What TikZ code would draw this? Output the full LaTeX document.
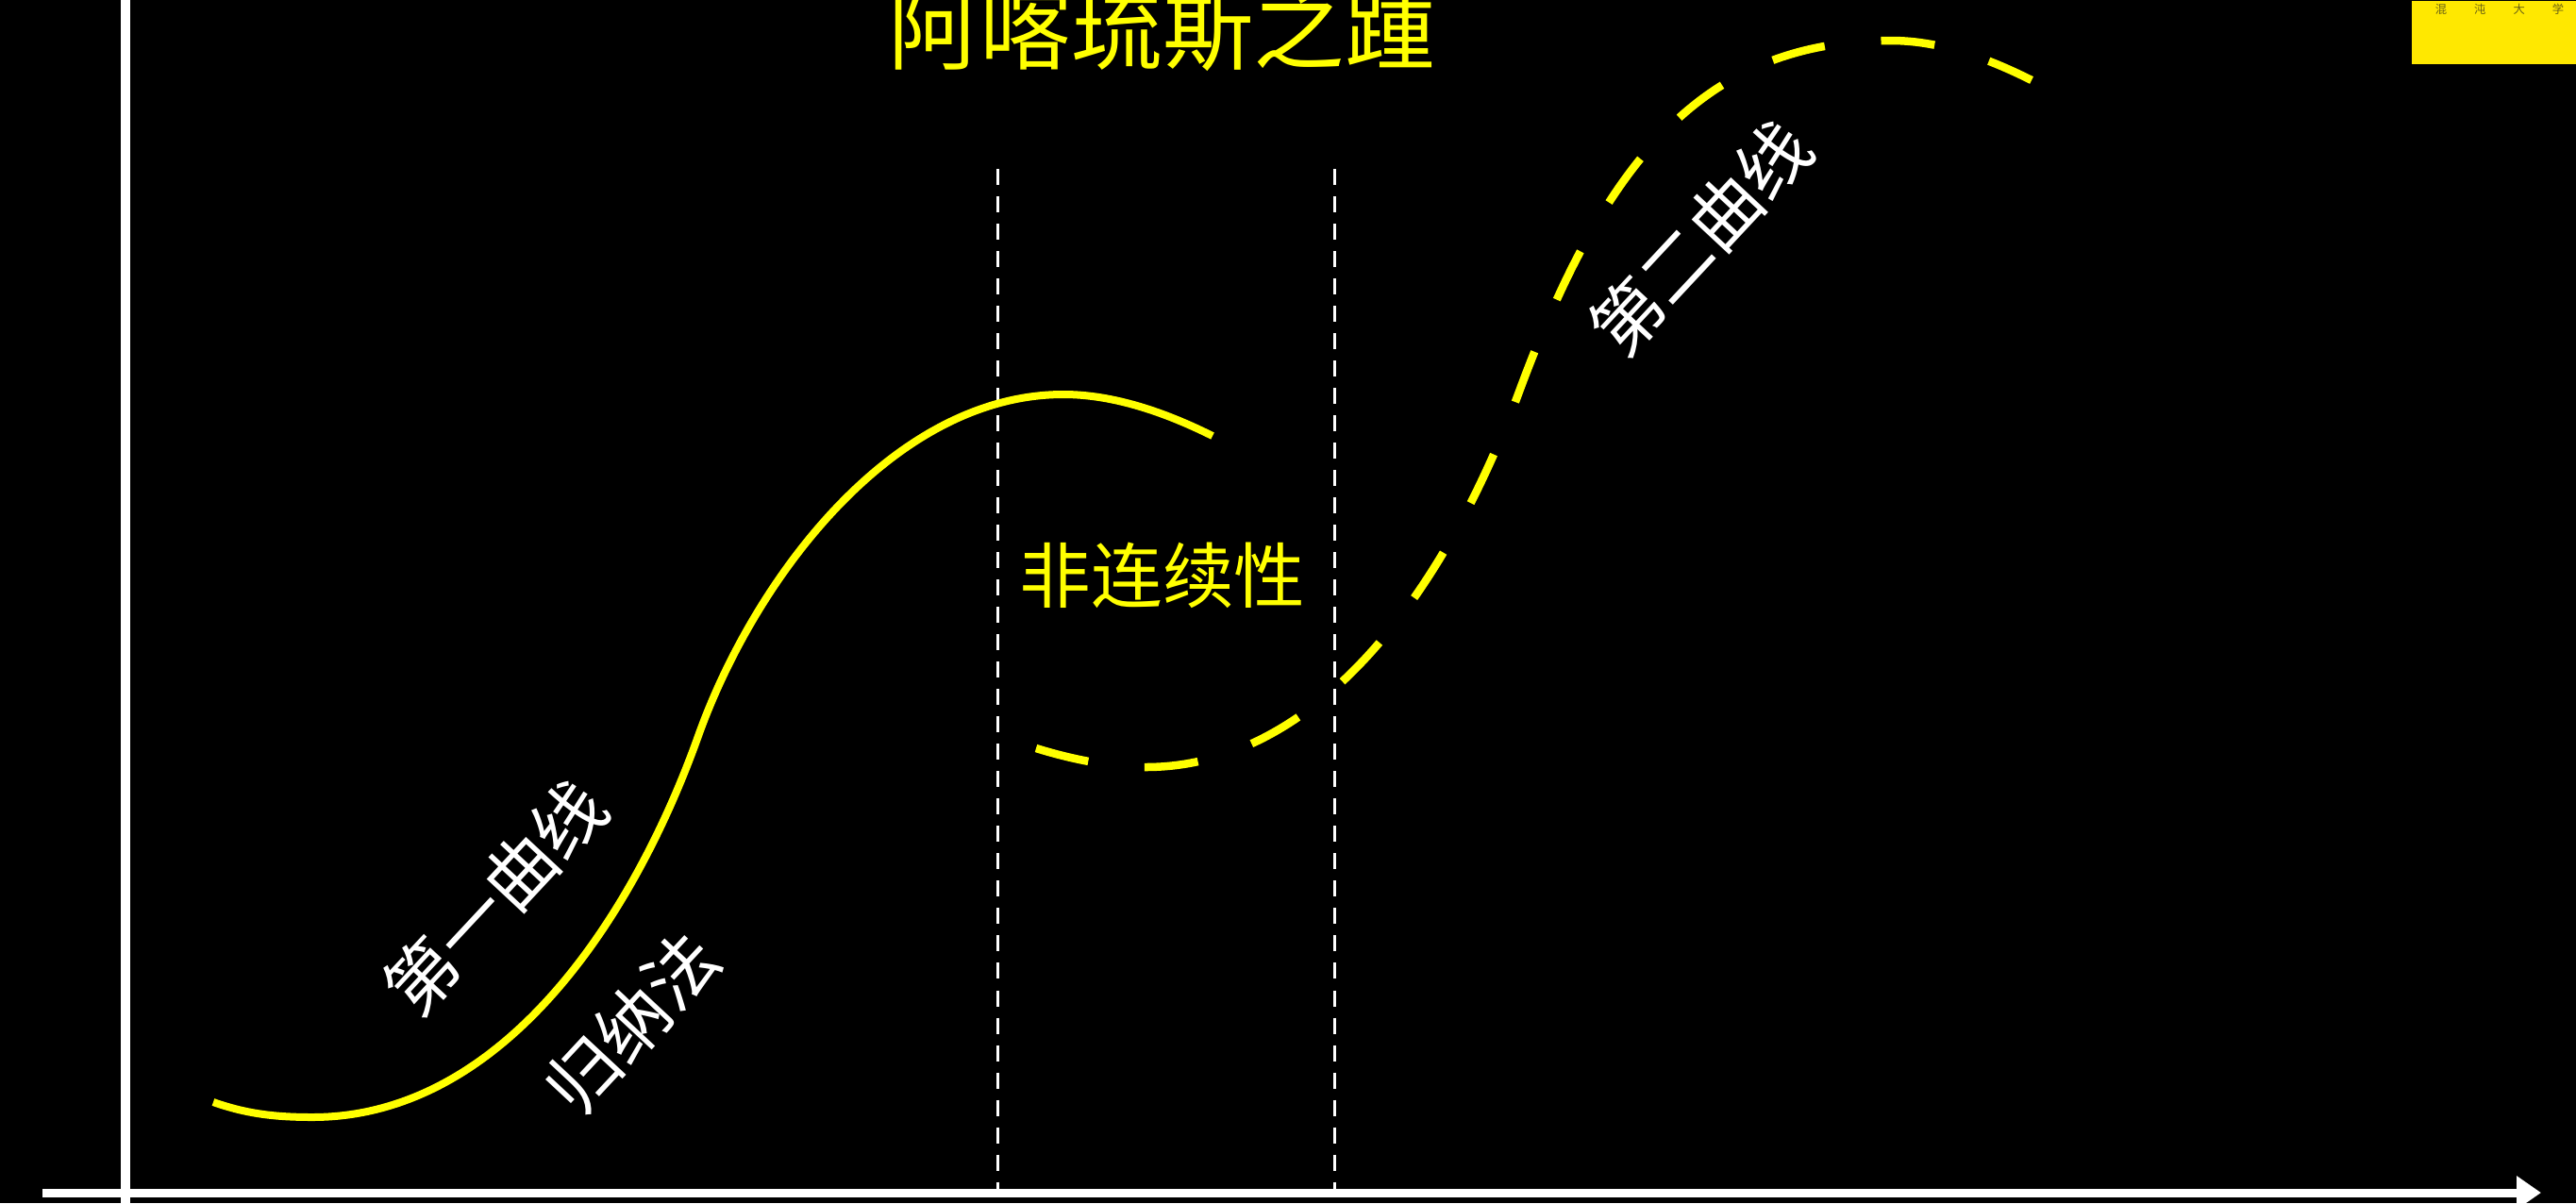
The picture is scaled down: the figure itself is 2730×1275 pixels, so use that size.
\documentclass[tikz,border=0pt]{standalone}
\usepackage{fontspec}
\usepackage{tikz}
\usetikzlibrary{arrows.meta}
\newfontfamily\cjk{Noto Sans CJK SC}
\definecolor{hotyellow}{RGB}{255,255,0}
\definecolor{logoyellow}{RGB}{255,232,0}
\definecolor{logoink}{RGB}{105,96,20}

\begin{document}
\begin{tikzpicture}[x=0.01cm, y=-0.01cm,
  axisline/.style={white, line width=0.09cm},
  guide/.style={white, line width=0.03cm, dash pattern=on 0.17cm off 0.12cm},
  curveone/.style={hotyellow, line width=0.08cm},
  curvetwo/.style={hotyellow, line width=0.085cm, dash pattern=on 0.57cm off 0.6cm},
  curvelabel/.style={white, font=\cjk\fontsize{21.5}{21.5}\selectfont, inner sep=0pt, rotate=47}]
  % Background
  \fill[black] (0,0) rectangle (2730,1275);
  \useasboundingbox (0,0) rectangle (2730,1275);
  % Axes
  \coordinate (ytop) at (133,0);
  \coordinate (ybottom) at (133,1275);
  \coordinate (xstart) at (45,1264);
  \coordinate (xend) at (2693,1264);
  \draw[axisline] (ybottom) -- (ytop);
  \draw[axisline, -{Triangle[length=0.26cm, width=0.34cm]}] (xstart) -- (xend);
  % Gap between the two curves
  \coordinate (leftguidetop) at (1057,179);
  \coordinate (leftguidebottom) at (1057,1264);
  \coordinate (rightguidetop) at (1414,179);
  \coordinate (rightguidebottom) at (1414,1264);
  \draw[guide] (leftguidetop) -- (leftguidebottom);
  \draw[guide] (rightguidetop) -- (rightguidebottom);
  % First curve
  \draw[curveone] (226,1168) .. controls (260,1180) and (290,1184) .. (331,1184)
    .. controls (531,1184) and (670,976) .. (740,780)
    .. controls (800,612) and (947,418) .. (1127,418)
    .. controls (1180,418) and (1235,437) .. (1285,462);
  % Second curve
  \draw[curvetwo] (1098,793) .. controls (1140,806) and (1180,813) .. (1214,813)
    .. controls (1394,813) and (1530,631) .. (1610,415)
    .. controls (1700,172) and (1804,43) .. (2004,43)
    .. controls (2060,43) and (2113,65) .. (2153,85);
  % Texts
  \node (title) [text=hotyellow, font=\cjk\fontsize{27.5}{27.5}\selectfont, anchor=base] at (1232,66) {阿喀琉斯之踵};
  \node (gap) [text=hotyellow, font=\cjk\fontsize{21.5}{21.5}\selectfont, anchor=base] at (1232,638) {非连续性};
  \node[curvelabel] (firstname) at (525,951) {第一曲线};
  \node[curvelabel] (induction) at (670,1084) {归纳法};
  \node[curvelabel] (secondname) at (1802,252) {第二曲线};
  % Logo
  \node (logo) [fill=logoyellow, inner sep=0pt, minimum width=1.75cm, minimum height=0.67cm, anchor=north west] at (2555,0) {};
  \node (logotext) [text=logoink, font=\cjk\fontsize{3.5}{3.5}\selectfont, inner sep=0pt] at (2649,10) {混\hspace{0.29cm}沌\hspace{0.29cm}大\hspace{0.29cm}学};
\end{tikzpicture}
\end{document}
